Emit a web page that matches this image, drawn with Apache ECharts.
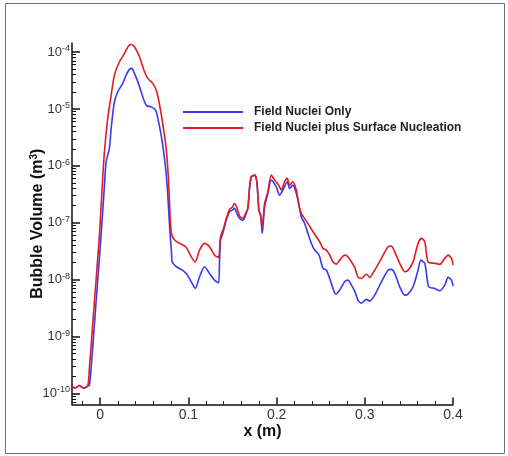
<!DOCTYPE html>
<html>
<head>
<meta charset="utf-8">
<script src="https://cdn.jsdelivr.net/npm/echarts@6/dist/echarts.min.js"></script>
<style>
html,body{margin:0;padding:0;background:#fff;}
#chart{width:508px;height:456px;}
</style>
</head>
<body>
<div id="chart"></div>
<script>
// Field Nuclei Only (blue)
var xNuclei = [-0.032,-0.028,-0.0236,-0.019,-0.0142,-0.0123,-0.0103,-0.0047,0.0010,0.0048,0.0067,0.0104,0.0124,0.0161,0.0199,0.0255,0.0294,0.0331,0.0357,0.0388,0.0426,0.0464,0.0502,0.0528,0.0578,0.0627,0.0653,0.0691,0.0729,0.0759,0.0777,0.0793,0.0808,0.0816,0.0862,0.0918,0.0975,0.1032,0.1077,0.1126,0.1183,0.1239,0.1296,0.1341,0.1353,0.1364,0.1390,0.1429,0.1466,0.1497,0.1523,0.1549,0.1580,0.1617,0.1648,0.1674,0.1694,0.1713,0.1750,0.1776,0.1799,0.1818,0.1837,0.1864,0.1901,0.1939,0.1996,0.2034,0.2071,0.2121,0.2147,0.2184,0.2223,0.2261,0.2280,0.2318,0.2355,0.2394,0.2431,0.2469,0.2488,0.2526,0.2564,0.2602,0.2639,0.2670,0.2715,0.2771,0.2809,0.2848,0.2885,0.2922,0.2961,0.3018,0.3055,0.3112,0.3188,0.3263,0.3301,0.3339,0.3396,0.3453,0.3490,0.3547,0.3604,0.3635,0.3680,0.3725,0.3793,0.3850,0.3907,0.3944,0.3983,0.4];
var volNuclei = [1.31e-10,1.25e-10,1.38e-10,1.25e-10,1.35e-10,1.4e-10,2.76e-10,4.09e-9,6.08e-8,4.6e-7,1.18e-6,2.03e-6,4.56e-6,1.34e-5,2.01e-5,2.82e-5,3.94e-5,4.97e-5,5.18e-5,4.23e-5,3.01e-5,2.01e-5,1.34e-5,1.14e-5,1.09e-5,9.57e-6,6.84e-6,3.48e-6,1.36e-6,4.6e-7,1.56e-7,6.08e-8,3.09e-8,2.06e-8,1.69e-8,1.52e-8,1.29e-8,9.19e-9,7.03e-9,1.12e-8,1.69e-8,1.29e-8,9.84e-9,8.83e-9,2.21e-8,4.97e-8,6.52e-8,1.11e-7,1.56e-7,1.67e-7,1.79e-7,1.46e-7,1.19e-7,1.11e-7,1.36e-7,1.79e-7,4.29e-7,6.43e-7,6.89e-7,5.26e-7,1.67e-7,1.36e-7,6.52e-8,1.91e-7,3.29e-7,5.62e-7,4.29e-7,3.07e-7,3.76e-7,5.26e-7,4.03e-7,4.6e-7,3.29e-7,1.79e-7,1.27e-7,9.75e-8,6.52e-8,4.35e-8,3.31e-8,2.9e-8,2.52e-8,1.58e-8,1.47e-8,1.05e-8,7.03e-9,5.58e-9,6.56e-9,9.19e-9,9.84e-9,8.04e-9,6.31e-9,4.38e-9,3.88e-9,4.51e-9,4.21e-9,5.36e-9,9.19e-9,1.47e-8,1.52e-8,1.29e-8,7.5e-9,5.36e-9,5.58e-9,7.5e-9,1.47e-8,2.21e-8,1.94e-8,7.5e-9,7.03e-9,6.38e-9,8.04e-9,1.1e-8,9.84e-9,7.73e-9];

// Field Nuclei plus Surface Nucleation (red)
var xSurface = [-0.032,-0.028,-0.0236,-0.019,-0.0142,-0.0123,-0.0066,-0.0009,0.0028,0.0048,0.0085,0.0124,0.0161,0.0218,0.0275,0.0323,0.0351,0.0388,0.0445,0.0502,0.0539,0.0596,0.0641,0.0680,0.0717,0.0748,0.0771,0.0785,0.0805,0.0842,0.0918,0.0975,0.1032,0.1077,0.1126,0.1183,0.1239,0.1296,0.1341,0.1364,0.1398,0.1429,0.1466,0.1497,0.1523,0.1549,0.1580,0.1617,0.1648,0.1674,0.1694,0.1713,0.1750,0.1776,0.1799,0.1818,0.1837,0.1864,0.1901,0.1939,0.1977,0.2022,0.2053,0.2090,0.2121,0.2147,0.2184,0.2223,0.2253,0.2280,0.2318,0.2355,0.2412,0.2488,0.2526,0.2564,0.2602,0.2639,0.2678,0.2715,0.2771,0.2809,0.2848,0.2885,0.2922,0.2961,0.3018,0.3055,0.3112,0.3188,0.3263,0.3301,0.3339,0.3396,0.3453,0.3490,0.3547,0.3604,0.3642,0.3680,0.3717,0.3793,0.3850,0.3907,0.3944,0.3983,0.4];
var volSurface = [1.31e-10,1.25e-10,1.38e-10,1.25e-10,1.35e-10,2.76e-10,4.09e-9,6.08e-8,6.03e-7,1.77e-6,6.84e-6,1.75e-5,3.94e-5,6.76e-5,9.49e-5,1.3e-4,1.36e-4,1.24e-4,8.27e-5,4.51e-5,3.45e-5,2.82e-5,2.01e-5,1.03e-5,4.56e-6,2.03e-6,6.89e-7,2.34e-7,6.95e-8,4.97e-8,4.23e-8,3.7e-8,2.52e-8,2.06e-8,3.31e-8,4.35e-8,3.79e-8,2.7e-8,2.46e-8,5.68e-8,7.97e-8,1.19e-7,1.72e-7,1.87e-7,2.19e-7,1.87e-7,1.31e-7,1.19e-7,1.46e-7,1.79e-7,4.29e-7,6.43e-7,6.89e-7,5.26e-7,1.67e-7,1.36e-7,8.51e-8,2.19e-7,3.51e-7,6.89e-7,5.62e-7,4.6e-7,3.76e-7,5.26e-7,6.03e-7,4.6e-7,5.26e-7,3.76e-7,2.05e-7,1.46e-7,1.19e-7,9.75e-8,6.95e-8,4.64e-8,3.55e-8,3.31e-8,2.7e-8,2.06e-8,1.88e-8,2.21e-8,2.7e-8,2.52e-8,2.06e-8,1.66e-8,1.11e-8,1.05e-8,1.25e-8,1.1e-8,1.47e-8,2.37e-8,3.79e-8,3.9e-8,3.09e-8,1.94e-8,1.38e-8,1.47e-8,2.06e-8,4.35e-8,5.32e-8,4.64e-8,2.06e-8,1.94e-8,1.86e-8,2.37e-8,2.7e-8,2.37e-8,1.81e-8];

var seriesNames = ['Field Nuclei Only', 'Field Nuclei plus Surface Nucleation'];

// tick labels
var xMajor = [0, 0.1, 0.2, 0.3, 0.4];
var xMinor = [-0.02, 0.02, 0.04, 0.06, 0.08, 0.12, 0.14, 0.16, 0.18, 0.22, 0.24, 0.26, 0.28, 0.32, 0.34, 0.36, 0.38];
var yMajor = [1e-10, 1e-9, 1e-8, 1e-7, 1e-6, 1e-5, 1e-4];

var xMin = -0.032, xMax = 0.4;
var yMin = 6.41e-11, yMax = 1.445e-4;

// minor ticks of the log axis: 2..9 in each decade
var yMinor = [];
for (var d = -11; d <= -4; d++) {
    for (var k = 2; k <= 9; k++) {
        var v = k * Math.pow(10, d);
        if (v > yMin && v < yMax) yMinor.push(v);
    }
}

function pairs(xs, ys) {
    var out = [];
    for (var i = 0; i < xs.length; i++) out.push([xs[i], ys[i]]);
    return out;
}

var font = 'Liberation Sans, Arial, sans-serif';
var axisColor = '#111';
var chart = echarts.init(document.getElementById('chart'));

var option = {
    animation: false,
    backgroundColor: '#fff',
    graphic: [{
        type: 'rect',
        shape: { x: 5.5, y: 3.5, width: 499, height: 450 },
        style: { fill: 'none', stroke: '#6e6e6e', lineWidth: 1 },
        silent: true
    }],
    grid: { left: 72, right: 55, top: 43, bottom: 51.5 },
    legend: {
        orient: 'vertical',
        left: 178,
        top: 100,
        icon: 'rect',
        itemWidth: 60,
        itemHeight: 2,
        itemGap: 2,
        data: seriesNames,
        textStyle: {
            fontFamily: font,
            fontWeight: 'bold',
            fontSize: 12,
            color: '#222',
            lineHeight: 14,
            padding: [0, 0, 0, 6]
        }
    },
    xAxis: [{
        type: 'value',
        min: xMin,
        max: xMax,
        name: 'x (m)',
        nameLocation: 'middle',
        nameGap: 19,
        nameMoveOverlap: false,
        nameTextStyle: { fontFamily: font, fontWeight: 'bold', fontSize: 16, color: axisColor },
        axisLine: { show: true, onZero: false, lineStyle: { color: axisColor, width: 1.5 } },
        axisTick: { show: true, inside: true, length: 7, customValues: xMajor, lineStyle: { color: axisColor, width: 1.5 } },
        axisLabel: {
            customValues: xMajor,
            margin: 4,
            fontFamily: font,
            fontSize: 14,
            color: '#333',
            formatter: function (v) { return String(v); }
        },
        splitLine: { show: false }
    }, {
        // minor ticks only
        type: 'value',
        min: xMin,
        max: xMax,
        position: 'bottom',
        axisLine: { show: false, onZero: false },
        axisTick: { show: true, inside: true, length: 3.5, customValues: xMinor, lineStyle: { color: axisColor, width: 1 } },
        axisLabel: { show: false },
        splitLine: { show: false }
    }],
    yAxis: [{
        type: 'log',
        min: yMin,
        max: yMax,
        name: '{n|Bubble Volume (m}{s|3}{n|)}',
        nameLocation: 'middle',
        nameGap: 25,
        nameMoveOverlap: false,
        nameTextStyle: {
            rich: {
                n: { fontFamily: font, fontWeight: 'bold', fontSize: 16, color: axisColor, lineHeight: 18 },
                s: { fontFamily: font, fontWeight: 'bold', fontSize: 10, color: axisColor, verticalAlign: 'top' }
            }
        },
        axisLine: { show: true, onZero: false, lineStyle: { color: axisColor, width: 1.5 } },
        axisTick: { show: true, inside: true, length: 8, customValues: yMajor, lineStyle: { color: axisColor, width: 1.5 } },
        axisLabel: {
            customValues: yMajor,
            margin: 2,
            formatter: function (v) {
                return '{b|10}{s|' + Math.round(Math.log10(v)) + '}';
            },
            rich: {
                b: { fontFamily: font, fontSize: 13, color: '#333', lineHeight: 16 },
                s: { fontFamily: font, fontSize: 9, color: '#333', verticalAlign: 'top' }
            }
        },
        splitLine: { show: false }
    }, {
        // minor ticks only (2..9 of each decade)
        type: 'log',
        min: yMin,
        max: yMax,
        position: 'left',
        axisLine: { show: false, onZero: false },
        axisTick: { show: true, inside: true, length: 4, customValues: yMinor, lineStyle: { color: axisColor, width: 1 } },
        axisLabel: { show: false },
        splitLine: { show: false }
    }],
    series: [{
        name: seriesNames[0],
        type: 'line',
        symbol: 'none',
        smooth: 0.25,
        xAxisIndex: 0,
        yAxisIndex: 0,
        lineStyle: { color: '#3838f2', width: 1.6 },
        itemStyle: { color: '#3838f2' },
        data: pairs(xNuclei, volNuclei)
    }, {
        name: seriesNames[1],
        type: 'line',
        symbol: 'none',
        smooth: 0.25,
        xAxisIndex: 0,
        yAxisIndex: 0,
        lineStyle: { color: '#e01b24', width: 1.6 },
        itemStyle: { color: '#e01b24' },
        data: pairs(xSurface, volSurface)
    }]
};
chart.setOption(option);
</script>
</body>
</html>
